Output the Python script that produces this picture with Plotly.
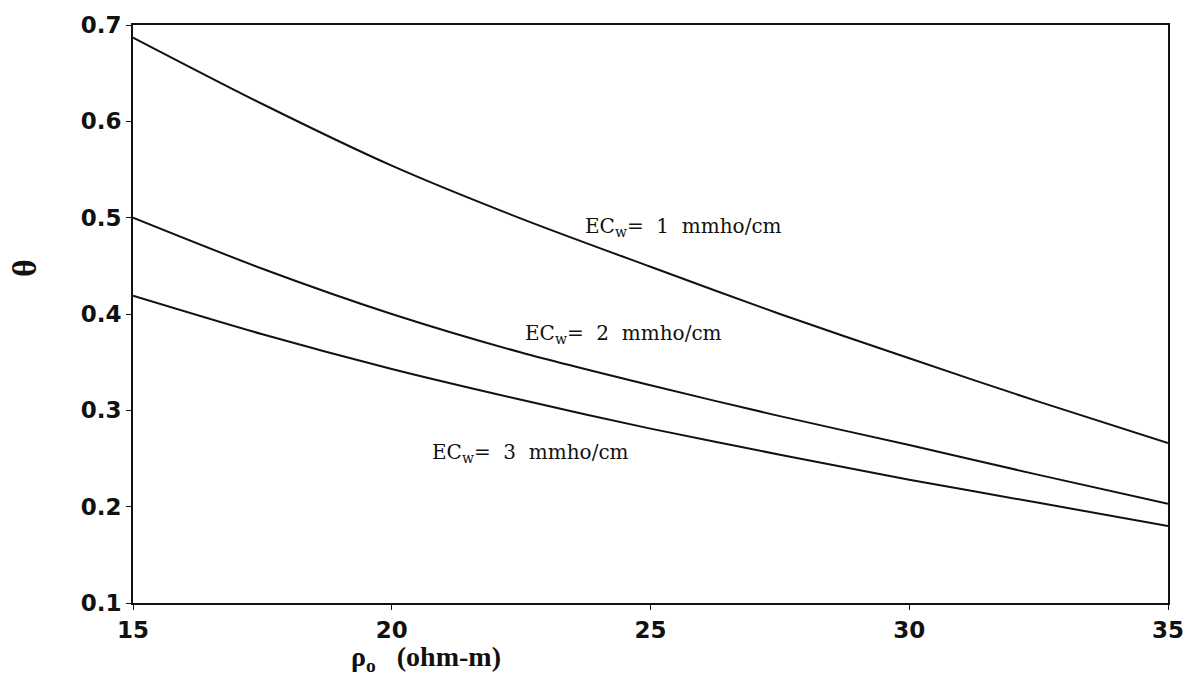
import plotly.graph_objects as go

# Data
rho = [15, 17.5, 20, 22.5, 25, 27.5, 30, 32.5, 35]
theta_ec1 = [0.687, 0.618, 0.554, 0.499, 0.449, 0.400, 0.354, 0.309, 0.266]
theta_ec2 = [0.500, 0.447, 0.400, 0.360, 0.326, 0.294, 0.264, 0.233, 0.203]
theta_ec3 = [0.419, 0.379, 0.343, 0.311, 0.281, 0.254, 0.228, 0.204, 0.180]

x_ticks = [15, 20, 25, 30, 35]
y_ticks = [0.1, 0.2, 0.3, 0.4, 0.5, 0.6, 0.7]

labels = ["EC<sub>w</sub>=&nbsp; 1&nbsp; mmho/cm",
          "EC<sub>w</sub>=&nbsp; 2&nbsp; mmho/cm",
          "EC<sub>w</sub>=&nbsp; 3&nbsp; mmho/cm"]
label_x = [23.69, 22.53, 20.74]
label_y = [0.490, 0.379, 0.256]

fig = go.Figure()
for ys in (theta_ec1, theta_ec2, theta_ec3):
    fig.add_trace(go.Scatter(x=rho, y=ys, mode="lines",
                             line=dict(color="#111111", width=2, shape="spline", smoothing=0.8),
                             showlegend=False, hoverinfo="skip"))

for t, lx, ly in zip(labels, label_x, label_y):
    fig.add_annotation(x=lx, y=ly, xref="x", yref="y", text=t, showarrow=False,
                       xanchor="left", yanchor="middle",
                       font=dict(family="DejaVu Serif", size=20, color="#111111"))

L, R, T, B = 133, 25, 22, 78
W, H = 1196, 681
plot_w = W - L - R
plot_h = H - T - B

# x-axis title
fig.add_annotation(x=(427 - L) / plot_w, y=-(659 - (H - B)) / plot_h, xref="paper", yref="paper",
                   xanchor="center", yanchor="middle",
                   text="<b>ρ<sub>o</sub>&nbsp;&nbsp; (ohm-m)</b>", showarrow=False,
                   font=dict(family="Liberation Serif", size=28, color="#111111"))
# y-axis title
fig.add_annotation(x=(24 - L) / plot_w, y=((H - B) - 266) / plot_h, xref="paper", yref="paper",
                   xanchor="center", yanchor="middle",
                   text="<b>θ</b>", showarrow=False, textangle=-90,
                   font=dict(family="Liberation Serif", size=34, color="#111111"))

axis_font = dict(family="DejaVu Sans", size=23, color="#111111", weight="bold")

fig.update_layout(
    width=W, height=H,
    margin=dict(l=L, r=R, t=T, b=B),
    plot_bgcolor="white", paper_bgcolor="white",
    xaxis=dict(range=[15, 35], tickvals=x_ticks, ticktext=[str(v) for v in x_ticks],
               showgrid=False, zeroline=False, showline=True, linecolor="#111111", linewidth=2, mirror=True,
               ticks="outside", ticklen=5, tickcolor="#111111", tickfont=axis_font),
    yaxis=dict(range=[0.1, 0.7], tickvals=y_ticks, ticktext=["%.1f" % v for v in y_ticks],
               showgrid=False, zeroline=False, showline=True, linecolor="#111111", linewidth=2, mirror=True,
               ticks="outside", ticklen=5, tickcolor="#111111", tickfont=axis_font),
)

fig.write_html("out.html")
